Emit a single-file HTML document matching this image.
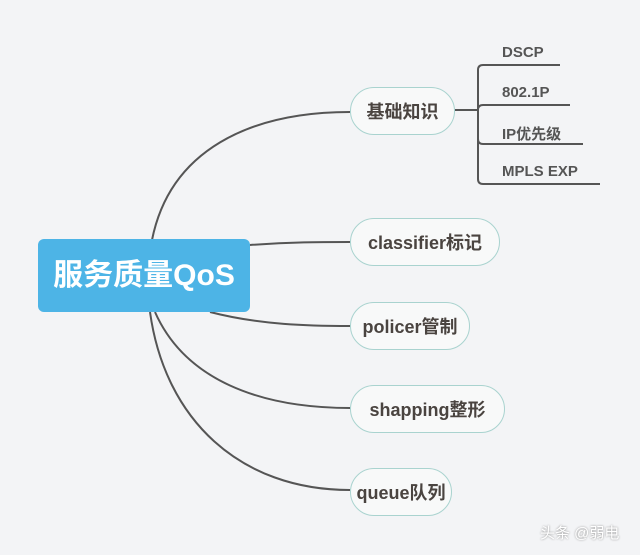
<!DOCTYPE html>
<html><head><meta charset="utf-8"><style>
body{margin:0;width:640px;height:555px;background:#f3f4f6;position:relative;overflow:hidden;font-family:"Liberation Sans","Noto Sans CJK SC",sans-serif;}
.c{position:absolute;left:38px;top:239px;width:212px;height:73px;background:#4db4e6;border-radius:6px;color:#fff;font-weight:bold;font-size:30px;line-height:73px;text-align:center;}
.n{position:absolute;left:350px;height:48px;border:1px solid #a9d3cf;border-radius:25px;background:#f8f9f9;color:#4a4440;font-weight:bold;font-size:18px;line-height:48px;text-align:center;box-sizing:border-box;}
.s{position:absolute;left:502px;font-weight:bold;font-size:15px;color:#555;}
</style></head><body>
<svg width="640" height="555" style="position:absolute;left:0;top:0">
<g fill="none" stroke="#555" stroke-width="2">
<path d="M152 240 C170 150 250 112 350 112"/>
<path d="M250 245 C290 242 320 242 350 242"/>
<path d="M210 312 C260 325 310 326 350 326"/>
<path d="M155 312 C185 380 260 408 350 408"/>
<path d="M150 312 C165 420 240 490 350 490"/>
<path d="M455 110 L478 110"/>
<path d="M478 70 Q478 65 483 65 L560 65 M478 70 L478 179 Q478 184 483 184 L600 184 M478 110 Q478 105 483 105 L570 105 M478 139 Q478 144 483 144 L583 144"/>
</g></svg>
<div class="c">服务质量QoS</div>
<div class="n" style="top:87px;width:105px">基础知识</div>
<div class="n" style="top:218px;width:150px">classifier标记</div>
<div class="n" style="top:302px;width:120px">policer管制</div>
<div class="n" style="top:385px;width:155px">shapping整形</div>
<div class="n" style="top:468px;width:102px">queue队列</div>
<div class="s" style="top:44px">DSCP</div>
<div class="s" style="top:84px">802.1P</div>
<div class="s" style="top:123px">IP优先级</div>
<div class="s" style="top:163px">MPLS EXP</div>
<div style="position:absolute;left:540px;top:522px;color:#fff;font-size:15px;text-shadow:0 0 2px #888">头条 @弱电</div>
</body></html>
